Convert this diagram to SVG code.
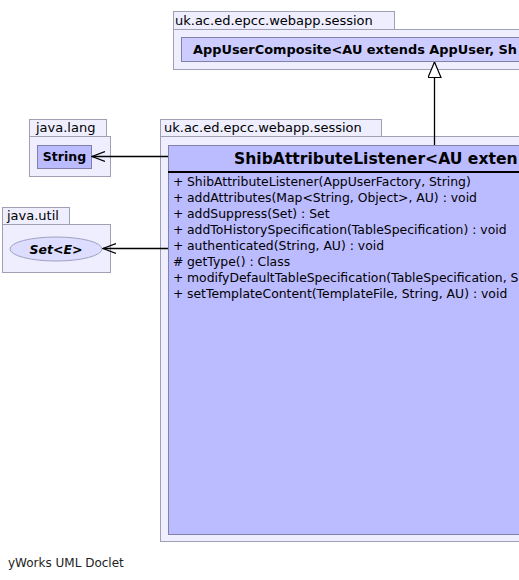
<svg xmlns="http://www.w3.org/2000/svg" width="519" height="580" viewBox="0 0 519 580">
<style>
text{font-family:"DejaVu Sans","Liberation Sans",sans-serif;fill:#000}
.pkg{fill:#eeeeff;stroke:#a0a0b4;stroke-width:1}
.pkl{font-size:13px}
.cls{fill:#bbbbff;stroke:#8080a8;stroke-width:1}
.cls2{fill:#ccccff;stroke:#8080a8;stroke-width:1}
.bold{font-weight:bold}
.m{font-size:12.4px}
.edge{stroke:#000;stroke-width:1.3;fill:none}
</style>
<defs>
<marker id="open" markerWidth="14" markerHeight="12" refX="13" refY="6" orient="auto" markerUnits="userSpaceOnUse">
<path d="M0,1 L13,6 L0,11" fill="none" stroke="#000" stroke-width="1.2"/>
</marker>
<marker id="tri" markerWidth="16" markerHeight="18" refX="16" refY="7" orient="auto" markerUnits="userSpaceOnUse">
<path d="M0.5,0.5 L16,7 L0.5,13.5 Z" fill="#fff" stroke="#000" stroke-width="1.2"/>
</marker>
</defs>
<rect width="519" height="580" fill="#fff"/>

<g id="pkg-session-top">
<rect class="pkg" x="173.5" y="11.5" width="221" height="18"/>
<rect class="pkg" x="173.5" y="29.5" width="350" height="40"/>
<text class="pkl" x="175" y="25">uk.ac.ed.epcc.webapp.session</text>
</g>
<g id="AppUserComposite">
<rect class="cls2" x="181.5" y="37.5" width="345" height="24"/>
<text class="bold" x="193" y="54" font-size="12.9">AppUserComposite&lt;AU extends AppUser, Sh</text>
</g>

<g id="pkg-java-lang">
<rect class="pkg" x="29.5" y="119.5" width="77" height="17"/>
<rect class="pkg" x="29.5" y="136.5" width="81" height="40"/>
<text class="pkl" x="36" y="132">java.lang</text>
</g>
<g id="String">
<rect class="cls" x="37.5" y="145.5" width="54" height="23"/>
<text class="bold" x="64.5" y="161" font-size="12.5" text-anchor="middle">String</text>
</g>

<g id="pkg-java-util">
<rect class="pkg" x="2.5" y="207.5" width="67" height="17"/>
<rect class="pkg" x="2.5" y="224.5" width="108" height="48"/>
<text class="pkl" x="7" y="220">java.util</text>
</g>
<g id="Set">
<ellipse cx="56" cy="249" rx="46" ry="12" fill="#ddddff" stroke="#a0a0c0" stroke-width="1"/>
<text class="bold" x="56" y="253.5" font-size="12.5" font-style="italic" text-anchor="middle">Set&lt;E&gt;</text>
</g>

<g id="pkg-session-main">
<rect class="pkg" x="160.5" y="119.5" width="221" height="17"/>
<rect class="pkg" x="160.5" y="136.5" width="370" height="405"/>
<text class="pkl" x="164" y="132">uk.ac.ed.epcc.webapp.session</text>
</g>
<g id="ShibAttributeListener">
<rect class="cls" x="168.5" y="145.5" width="360" height="389"/>
<line x1="168" y1="172" x2="519" y2="172" stroke="#000" stroke-width="2"/>
<text class="bold" x="234" y="164" font-size="15.6">ShibAttributeListener&lt;AU exten</text>
<text class="m" x="173" y="186">+</text><text class="m" x="187" y="186">ShibAttributeListener(AppUserFactory, String)</text>
<text class="m" x="173" y="202">+</text><text class="m" x="187" y="202">addAttributes(Map&lt;String, Object&gt;, AU) : void</text>
<text class="m" x="173" y="218">+</text><text class="m" x="187" y="218">addSuppress(Set) : Set</text>
<text class="m" x="173" y="234">+</text><text class="m" x="187" y="234">addToHistorySpecification(TableSpecification) : void</text>
<text class="m" x="173" y="250">+</text><text class="m" x="187" y="250">authenticated(String, AU) : void</text>
<text class="m" x="173" y="266">#</text><text class="m" x="187" y="266">getType() : Class</text>
<text class="m" x="173" y="282">+</text><text class="m" x="187" y="282">modifyDefaultTableSpecification(TableSpecification, S</text>
<text class="m" x="173" y="298">+</text><text class="m" x="187" y="298">setTemplateContent(TemplateFile, String, AU) : void</text>
</g>

<g id="connectors">
<line class="edge" x1="434.5" y1="145" x2="434.5" y2="62" marker-end="url(#tri)"/>
<line class="edge" x1="168" y1="156.5" x2="92" y2="156.5" marker-end="url(#open)"/>
<line class="edge" x1="168" y1="248.5" x2="103" y2="248.5" marker-end="url(#open)"/>
</g>

<text x="8" y="567" font-size="12" style="fill:#222">yWorks UML Doclet</text>
</svg>
